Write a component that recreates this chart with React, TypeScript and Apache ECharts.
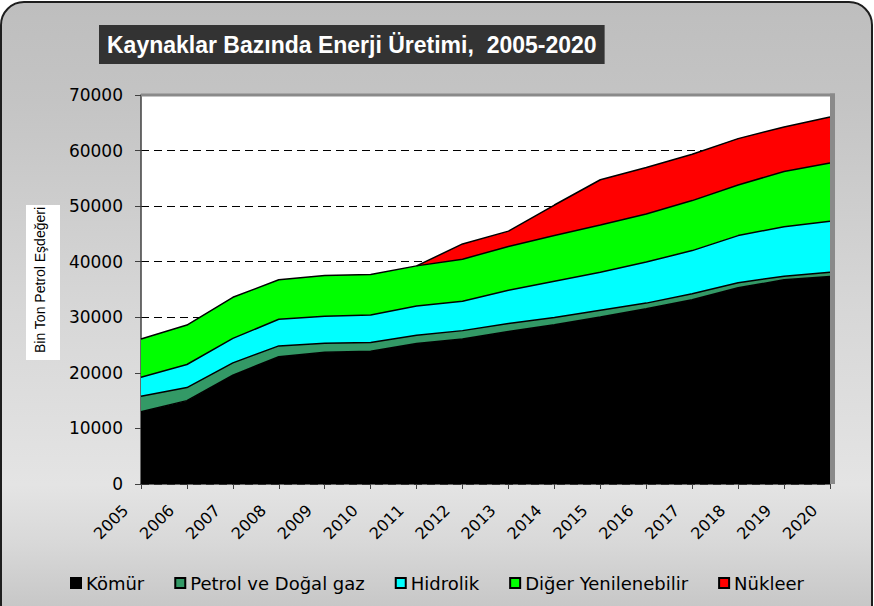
import React, { useEffect, useRef } from "react";
import * as echarts from "echarts";

const years = ["2005", "2006", "2007", "2008", "2009", "2010", "2011", "2012", "2013", "2014", "2015", "2016", "2017", "2018", "2019", "2020"];
const komur = [13000, 15000, 19600, 22900, 23700, 23900, 25300, 26100, 27450, 28650, 30050, 31550, 33150, 35300, 36750, 37350];
const petrol = [2800, 2350, 2200, 1950, 1650, 1550, 1450, 1500, 1450, 1300, 1200, 1000, 1100, 900, 650, 750];
const hidrolik = [3400, 4150, 4400, 4800, 4850, 4950, 5300, 5300, 5950, 6550, 6850, 7400, 7750, 8500, 8900, 9200];
const diger = [6900, 7100, 7400, 7100, 7300, 7300, 7200, 7550, 7900, 8200, 8500, 8650, 9000, 9100, 9950, 10450];
const nukleer: (number | string)[] = ["-", "-", "-", "-", "-", "-", 0, 2750, 2750, 5500, 8150, 8350, 8350, 8350, 8000, 8300];

const seriesNames = ["Kömür", "Petrol ve Doğal gaz", "Hidrolik", "Diğer Yenilenebilir", "Nükleer"];
const seriesColors = ["#000000", "#339966", "#00FFFF", "#00FF00", "#FF0000"];
const seriesData = [komur, petrol, hidrolik, diger, nukleer];

const titleText = "Kaynaklar Bazında Enerji Üretimi,  2005-2020";
const yAxisTitle = "Bin Ton Petrol Eşdeğeri";
const yMin = 0;
const yMax = 70000;
const yStep = 10000;

const GRID_LEFT = 141;
const GRID_RIGHT = 830;
const GRID_TOP = 95;
const GRID_BOTTOM = 484;
const W = 874;
const H = 606;

export default function App() {
  const ref = useRef<HTMLDivElement>(null);
  useEffect(() => {
    if (!ref.current) return;
    const chart = echarts.init(ref.current, null, { renderer: "svg" });
    const option: any = {
      animation: false,
      backgroundColor: "transparent",
      title: {
        text: titleText,
        left: 99,
        top: 25,
        backgroundColor: "#333333",
        padding: [8, 8, 8, 8],
        textStyle: {
          fontFamily: "Liberation Sans, Arial, sans-serif",
          fontWeight: "bold",
          fontSize: 23,
          color: "#ffffff",
          lineHeight: 23,
        },
      },
      grid: {
        left: GRID_LEFT,
        right: W - GRID_RIGHT,
        top: GRID_TOP,
        bottom: H - GRID_BOTTOM,
        show: true,
        backgroundColor: "#ffffff",
        borderWidth: 0,
      },
      legend: {
        data: seriesNames,
        left: 65,
        top: 569,
        icon: "rect",
        itemWidth: 10,
        itemHeight: 10,
        itemGap: 30,
        itemStyle: { borderColor: "#000000", borderWidth: 2 },
        textStyle: { fontFamily: "DejaVu Sans", fontSize: 18, color: "#000000" },
      },
      xAxis: {
        type: "category",
        data: years,
        boundaryGap: false,
        axisLine: { show: true, lineStyle: { color: "#404040", width: 1.5 } },
        axisTick: { show: true, length: 5, lineStyle: { color: "#404040" } },
        axisLabel: {
          interval: 0,
          rotate: 45,
          margin: 8,
          padding: [0, 22, 0, 0],
          fontFamily: "DejaVu Sans",
          fontSize: 16,
          color: "#000000",
        },
        splitLine: { show: false },
      },
      yAxis: {
        type: "value",
        min: yMin,
        max: yMax,
        interval: yStep,
        axisLine: { show: true, lineStyle: { color: "#404040", width: 1.5 } },
        axisTick: { show: true, length: 6, lineStyle: { color: "#404040" } },
        axisLabel: {
          margin: 18,
          fontFamily: "DejaVu Sans",
          fontSize: 17,
          color: "#000000",
          formatter: (v: number) => String(v),
        },
        splitLine: { show: true, lineStyle: { color: "#000000", width: 1, type: [8, 5] } },
      },
      graphic: [
        {
          type: "rect",
          shape: { x: 26, y: 205, width: 34, height: 155 },
          style: { fill: "#ffffff" },
          z: 1,
        },
        {
          type: "text",
          x: 40,
          y: 280,
          rotation: Math.PI / 2,
          style: {
            text: yAxisTitle,
            fontFamily: "Liberation Sans, Arial, sans-serif",
            fontSize: 14,
            fill: "#000000",
            align: "center",
            verticalAlign: "middle",
          },
          z: 2,
        },
        {
          type: "rect",
          shape: { x: GRID_LEFT, y: GRID_TOP - 1.5, width: GRID_RIGHT - GRID_LEFT + 5, height: 3 },
          style: { fill: "#8a8a8a" },
          z: 10,
        },
        {
          type: "rect",
          shape: { x: GRID_RIGHT, y: GRID_TOP - 1.5, width: 5, height: GRID_BOTTOM - GRID_TOP + 1.5 },
          style: { fill: "#8a8a8a" },
          z: 10,
        },
      ],
      series: seriesNames.map((name, i) => ({
        name,
        type: "line",
        stack: "total",
        data: seriesData[i],
        showSymbol: false,
        symbol: "none",
        itemStyle: { color: seriesColors[i] },
        lineStyle: { color: "#000000", width: 1.5 },
        areaStyle: { color: seriesColors[i], opacity: 1 },
        emphasis: { disabled: true },
      })),
    };
    chart.setOption(option);
    return () => chart.dispose();
  }, []);

  return (
    <div style={{ position: "absolute", left: 0, top: 0, width: W, height: H, overflow: "hidden" }}>
      <div
        style={{
          position: "absolute",
          left: 0,
          top: 1,
          width: 869,
          height: 660,
          border: "2px solid #1e1e1e",
          borderRadius: 24,
          background:
            "linear-gradient(to bottom, #bebebe 0%, #c4c4c4 15%, #d6d6d6 45%, #e4e4e4 73%, #d8d8d8 82%, #c6c6c6 92%)",
        }}
      />
      <div ref={ref} style={{ position: "absolute", left: 0, top: 0, width: W, height: H }} />
    </div>
  );
}
